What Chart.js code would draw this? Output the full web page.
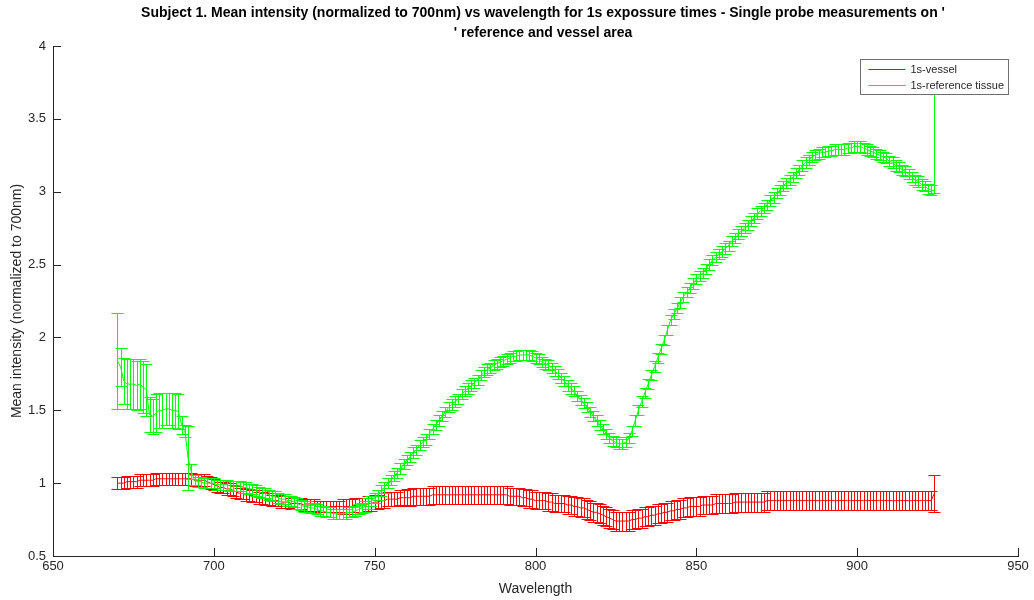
<!DOCTYPE html>
<html>
<head>
<meta charset="utf-8">
<title>Mean intensity vs wavelength</title>
<script src="https://cdn.jsdelivr.net/npm/chart.js@4.4.1/dist/chart.umd.min.js"></script>
<style>
    html, body { margin: 0; padding: 0; background: #fff; }
    #wrap { width: 1034px; height: 600px; }
</style>
</head>
<body>
<div id="wrap"><canvas id="spectrum"></canvas></div>
<script>
// ========================================
// Data
// ========================================

// sample wavelengths, nm (1 nm steps, 670 - 924)
const wavelengths = [];
for (let w = 670; w <= 924; w++) wavelengths.push(w);

// 1s-vessel: mean intensity normalised to 700 nm
const vesselMean = [
    1.00, 1.00, 1.00, 1.01, 1.01, 1.01, 1.01, 1.02, 1.02, 1.02,
    1.02, 1.02, 1.03, 1.03, 1.03, 1.03, 1.03, 1.03, 1.03, 1.03,
    1.03, 1.03, 1.03, 1.03, 1.02, 1.02, 1.02, 1.02, 1.01, 1.00,
    0.99, 0.98, 0.97, 0.97, 0.96, 0.96, 0.95, 0.94, 0.93, 0.93,
    0.92, 0.92, 0.91, 0.91, 0.90, 0.90, 0.89, 0.89, 0.88, 0.88,
    0.88, 0.87, 0.87, 0.87, 0.86, 0.86, 0.86, 0.86, 0.85, 0.85,
    0.85, 0.85, 0.84, 0.84, 0.84, 0.84, 0.84, 0.84, 0.84, 0.84,
    0.84, 0.84, 0.84, 0.84, 0.85, 0.85, 0.85, 0.85, 0.86, 0.86,
    0.87, 0.87, 0.88, 0.88, 0.89, 0.89, 0.89, 0.89, 0.90, 0.90,
    0.90, 0.90, 0.91, 0.91, 0.91, 0.91, 0.91, 0.91, 0.92, 0.92,
    0.92, 0.92, 0.92, 0.92, 0.92, 0.92, 0.92, 0.92, 0.92, 0.92,
    0.92, 0.92, 0.92, 0.92, 0.92, 0.92, 0.92, 0.92, 0.92, 0.92,
    0.92, 0.92, 0.91, 0.91, 0.91, 0.91, 0.90, 0.90, 0.89, 0.89,
    0.88, 0.88, 0.88, 0.88, 0.87, 0.87, 0.86, 0.86, 0.86, 0.86,
    0.85, 0.85, 0.84, 0.84, 0.83, 0.83, 0.82, 0.81, 0.80, 0.80,
    0.79, 0.78, 0.77, 0.76, 0.75, 0.74, 0.74, 0.74, 0.74, 0.74,
    0.75, 0.75, 0.76, 0.76, 0.77, 0.77, 0.78, 0.78, 0.79, 0.79,
    0.80, 0.80, 0.81, 0.81, 0.82, 0.82, 0.83, 0.83, 0.84, 0.84,
    0.84, 0.84, 0.85, 0.85, 0.85, 0.85, 0.86, 0.86, 0.86, 0.86,
    0.86, 0.86, 0.87, 0.87, 0.87, 0.87, 0.87, 0.87, 0.87, 0.87,
    0.87, 0.87, 0.88, 0.88, 0.88, 0.88, 0.88, 0.88, 0.88, 0.88,
    0.88, 0.88, 0.88, 0.88, 0.88, 0.88, 0.88, 0.88, 0.88, 0.88,
    0.88, 0.88, 0.88, 0.88, 0.88, 0.88, 0.88, 0.88, 0.88, 0.88,
    0.88, 0.88, 0.88, 0.88, 0.88, 0.88, 0.88, 0.88, 0.88, 0.88,
    0.88, 0.88, 0.88, 0.88, 0.88, 0.88, 0.88, 0.88, 0.88, 0.88,
    0.88, 0.88, 0.88, 0.88, 0.93
];
const vesselErr = [
    0.04, 0.04, 0.04, 0.04, 0.04, 0.04, 0.04, 0.04, 0.04, 0.04,
    0.04, 0.04, 0.04, 0.04, 0.04, 0.04, 0.04, 0.04, 0.04, 0.04,
    0.04, 0.04, 0.04, 0.04, 0.04, 0.04, 0.04, 0.04, 0.04, 0.04,
    0.04, 0.04, 0.04, 0.04, 0.04, 0.04, 0.04, 0.04, 0.04, 0.04,
    0.04, 0.04, 0.04, 0.04, 0.04, 0.04, 0.04, 0.04, 0.04, 0.04,
    0.04, 0.04, 0.04, 0.04, 0.04, 0.04, 0.04, 0.04, 0.04, 0.04,
    0.04, 0.04, 0.04, 0.04, 0.04, 0.04, 0.04, 0.04, 0.04, 0.04,
    0.05, 0.05, 0.05, 0.05, 0.05, 0.05, 0.05, 0.05, 0.05, 0.05,
    0.05, 0.05, 0.05, 0.05, 0.05, 0.05, 0.05, 0.05, 0.05, 0.05,
    0.06, 0.06, 0.06, 0.06, 0.06, 0.06, 0.06, 0.06, 0.06, 0.06,
    0.06, 0.06, 0.06, 0.06, 0.06, 0.06, 0.06, 0.06, 0.06, 0.06,
    0.06, 0.06, 0.06, 0.06, 0.06, 0.06, 0.06, 0.06, 0.06, 0.06,
    0.06, 0.06, 0.06, 0.06, 0.06, 0.06, 0.06, 0.06, 0.06, 0.06,
    0.06, 0.06, 0.06, 0.06, 0.06, 0.06, 0.06, 0.06, 0.06, 0.06,
    0.065, 0.065, 0.065, 0.065, 0.065, 0.065, 0.065, 0.065, 0.065, 0.065,
    0.065, 0.065, 0.065, 0.065, 0.065, 0.065, 0.065, 0.065, 0.065, 0.065,
    0.065, 0.065, 0.065, 0.065, 0.065, 0.065, 0.065, 0.065, 0.065, 0.065,
    0.065, 0.065, 0.065, 0.065, 0.065, 0.065, 0.065, 0.065, 0.065, 0.065,
    0.065, 0.065, 0.065, 0.065, 0.065, 0.065, 0.065, 0.065, 0.065, 0.065,
    0.065, 0.065, 0.065, 0.065, 0.065, 0.065, 0.065, 0.065, 0.065, 0.065,
    0.065, 0.065, 0.065, 0.065, 0.065, 0.065, 0.065, 0.065, 0.065, 0.065,
    0.065, 0.065, 0.065, 0.065, 0.065, 0.065, 0.065, 0.065, 0.065, 0.065,
    0.065, 0.065, 0.065, 0.065, 0.065, 0.065, 0.065, 0.065, 0.065, 0.065,
    0.065, 0.065, 0.065, 0.065, 0.065, 0.065, 0.065, 0.065, 0.065, 0.065,
    0.065, 0.065, 0.065, 0.065, 0.065, 0.065, 0.065, 0.065, 0.065, 0.065,
    0.065, 0.065, 0.065, 0.065, 0.125
];

// 1s-reference tissue
const refMean = [
    1.84, 1.80, 1.70, 1.68, 1.68, 1.68, 1.67, 1.68, 1.66, 1.64,
    1.47, 1.46, 1.48, 1.50, 1.50, 1.51, 1.51, 1.50, 1.50, 1.49,
    1.40, 1.36, 1.17, 1.08, 1.02, 1.01, 1.01, 1.00, 1.00, 1.00,
    1.00, 0.99, 0.99, 0.99, 0.99, 0.98, 0.98, 0.98, 0.98, 0.97,
    0.97, 0.96, 0.96, 0.95, 0.94, 0.93, 0.93, 0.92, 0.91, 0.91,
    0.90, 0.89, 0.89, 0.88, 0.88, 0.87, 0.86, 0.85, 0.84, 0.84,
    0.83, 0.83, 0.82, 0.81, 0.81, 0.80, 0.80, 0.79, 0.79, 0.79,
    0.79, 0.79, 0.80, 0.80, 0.81, 0.82, 0.83, 0.84, 0.86, 0.88,
    0.90, 0.92, 0.95, 0.97, 1.00, 1.02, 1.05, 1.07, 1.10, 1.13,
    1.16, 1.18, 1.21, 1.23, 1.26, 1.28, 1.30, 1.34, 1.37, 1.40,
    1.43, 1.46, 1.49, 1.52, 1.54, 1.56, 1.58, 1.61, 1.63, 1.65,
    1.67, 1.69, 1.71, 1.74, 1.76, 1.78, 1.79, 1.81, 1.82, 1.83,
    1.84, 1.85, 1.86, 1.87, 1.87, 1.88, 1.88, 1.88, 1.88, 1.87,
    1.86, 1.85, 1.83, 1.82, 1.81, 1.79, 1.77, 1.75, 1.72, 1.70,
    1.67, 1.65, 1.63, 1.60, 1.57, 1.55, 1.52, 1.49, 1.46, 1.43,
    1.40, 1.37, 1.34, 1.31, 1.29, 1.28, 1.27, 1.27, 1.28, 1.31,
    1.36, 1.43, 1.50, 1.56, 1.62, 1.68, 1.74, 1.80, 1.86, 1.92,
    1.98, 2.05, 2.12, 2.16, 2.20, 2.24, 2.28, 2.31, 2.34, 2.37,
    2.40, 2.42, 2.44, 2.47, 2.50, 2.53, 2.55, 2.57, 2.59, 2.61,
    2.63, 2.66, 2.68, 2.71, 2.73, 2.75, 2.77, 2.80, 2.82, 2.85,
    2.87, 2.89, 2.91, 2.94, 2.96, 2.99, 3.01, 3.04, 3.06, 3.08,
    3.10, 3.13, 3.15, 3.18, 3.20, 3.22, 3.24, 3.25, 3.26, 3.27,
    3.27, 3.28, 3.28, 3.29, 3.29, 3.29, 3.29, 3.30, 3.30, 3.31,
    3.31, 3.31, 3.30, 3.29, 3.28, 3.27, 3.26, 3.25, 3.24, 3.23,
    3.21, 3.20, 3.18, 3.17, 3.15, 3.14, 3.12, 3.10, 3.08, 3.07,
    3.05, 3.04, 3.02, 3.01, 3.01
];
// lower whisker (and upper, except the last sample)
const refErr = [
    0.33, 0.13, 0.16, 0.17, 0.17, 0.17, 0.17, 0.17, 0.18, 0.18,
    0.12, 0.12, 0.13, 0.12, 0.12, 0.11, 0.11, 0.12, 0.12, 0.12,
    0.06, 0.04, 0.22, 0.05, 0.035, 0.035, 0.035, 0.035, 0.035, 0.035,
    0.035, 0.035, 0.035, 0.035, 0.035, 0.035, 0.035, 0.035, 0.035, 0.035,
    0.035, 0.035, 0.035, 0.035, 0.035, 0.035, 0.035, 0.035, 0.035, 0.035,
    0.035, 0.035, 0.035, 0.035, 0.035, 0.035, 0.035, 0.035, 0.035, 0.035,
    0.035, 0.035, 0.035, 0.035, 0.035, 0.035, 0.035, 0.035, 0.035, 0.035,
    0.035, 0.035, 0.035, 0.035, 0.035, 0.035, 0.035, 0.035, 0.035, 0.035,
    0.035, 0.035, 0.035, 0.035, 0.035, 0.035, 0.035, 0.035, 0.035, 0.035,
    0.035, 0.035, 0.035, 0.035, 0.035, 0.035, 0.035, 0.035, 0.035, 0.035,
    0.035, 0.035, 0.035, 0.035, 0.035, 0.035, 0.035, 0.035, 0.035, 0.035,
    0.035, 0.035, 0.035, 0.035, 0.035, 0.035, 0.035, 0.035, 0.035, 0.035,
    0.035, 0.035, 0.035, 0.035, 0.035, 0.035, 0.035, 0.035, 0.035, 0.035,
    0.035, 0.035, 0.035, 0.035, 0.035, 0.035, 0.035, 0.035, 0.035, 0.035,
    0.035, 0.035, 0.035, 0.035, 0.035, 0.035, 0.035, 0.035, 0.035, 0.035,
    0.035, 0.035, 0.035, 0.035, 0.035, 0.035, 0.035, 0.035, 0.035, 0.035,
    0.035, 0.035, 0.035, 0.035, 0.035, 0.035, 0.035, 0.035, 0.035, 0.035,
    0.035, 0.035, 0.035, 0.035, 0.035, 0.035, 0.035, 0.035, 0.035, 0.035,
    0.035, 0.035, 0.035, 0.035, 0.035, 0.035, 0.035, 0.035, 0.035, 0.035,
    0.035, 0.035, 0.035, 0.035, 0.035, 0.035, 0.035, 0.035, 0.035, 0.035,
    0.035, 0.035, 0.035, 0.035, 0.035, 0.035, 0.035, 0.035, 0.035, 0.035,
    0.035, 0.035, 0.035, 0.035, 0.035, 0.035, 0.035, 0.035, 0.035, 0.035,
    0.035, 0.035, 0.035, 0.035, 0.035, 0.035, 0.035, 0.035, 0.035, 0.035,
    0.035, 0.035, 0.035, 0.035, 0.035, 0.035, 0.035, 0.035, 0.035, 0.035,
    0.035, 0.035, 0.035, 0.035, 0.035, 0.035, 0.035, 0.035, 0.035, 0.035,
    0.035, 0.035, 0.035, 0.035, 0.02
];
// the last reference sample has a long upper whisker
const refLastUpperErr = 0.75;
const refErrHigh = refErr.slice(0, -1).concat([refLastUpperErr]);

const seriesLabels = ['1s-vessel', '1s-reference tissue'];
const titleLines = [
    "Subject 1. Mean intensity (normalized to 700nm) vs wavelength for 1s expossure times - Single probe measurements on '",
    "' reference and vessel area"
];

// ========================================
// Plugins
// ========================================

const AXIS_COLOR = '#262626';
const VESSEL_COLOR = '#ff0000';
const REF_COLOR = '#00ff00';
const FONT = '"Liberation Sans", Arial, Helvetica, sans-serif';

// MATLAB-style error bars: vertical whisker + caps
const errorBarPlugin = {
    id: 'errorBars',
    afterDatasetDraw(chart, args) {
        const ds = chart.data.datasets[args.index];
        if (!ds.errLow) return;
        const { ctx, chartArea, scales: { x, y } } = chart;
        const cap = 6;
        ctx.save();
        ctx.beginPath();
        ctx.rect(chartArea.left, chartArea.top, chartArea.right - chartArea.left, chartArea.bottom - chartArea.top);
        ctx.clip();
        ctx.strokeStyle = ds.errColor;
        ctx.lineWidth = 1;
        ctx.beginPath();
        ds.data.forEach((p, i) => {
            const px = Math.round(x.getPixelForValue(p.x)) + 0.5;
            const top = Math.round(y.getPixelForValue(p.y + ds.errHigh[i])) + 0.5;
            const bot = Math.round(y.getPixelForValue(p.y - ds.errLow[i])) + 0.5;
            ctx.moveTo(px, top);
            ctx.lineTo(px, bot);
            ctx.moveTo(px - cap, top);
            ctx.lineTo(px + cap, top);
            ctx.moveTo(px - cap, bot);
            ctx.lineTo(px + cap, bot);
        });
        ctx.stroke();
        ctx.restore();
    }
};

// inward tick marks like MATLAB axes
const innerTicksPlugin = {
    id: 'innerTicks',
    afterDraw(chart) {
        const { ctx, chartArea, scales: { x, y } } = chart;
        const len = 8;
        ctx.save();
        ctx.strokeStyle = AXIS_COLOR;
        ctx.lineWidth = 1;
        ctx.beginPath();
        x.ticks.forEach(t => {
            const px = Math.round(x.getPixelForValue(t.value)) + 0.5;
            ctx.moveTo(px, chartArea.bottom);
            ctx.lineTo(px, chartArea.bottom - len);
        });
        y.ticks.forEach(t => {
            const py = Math.round(y.getPixelForValue(t.value)) + 0.5;
            ctx.moveTo(chartArea.left, py);
            ctx.lineTo(chartArea.left + len, py);
        });
        ctx.stroke();
        ctx.restore();
    }
};

// two-line title, centred a little right of the canvas centre as in the figure
const axesTitlePlugin = {
    id: 'axesTitle',
    afterDraw(chart) {
        const { ctx } = chart;
        ctx.save();
        ctx.fillStyle = '#000';
        ctx.font = 'bold 14px ' + FONT;
        ctx.textAlign = 'center';
        ctx.textBaseline = 'middle';
        titleLines.forEach((line, i) => ctx.fillText(line, 543, 13 + i * 20));
        ctx.restore();
    }
};

// boxed legend in the upper right corner of the axes
const boxLegendPlugin = {
    id: 'boxLegend',
    afterDraw(chart) {
        const { ctx } = chart;
        const left = 860.5, top = 59.5, w = 148, h = 35;
        ctx.save();
        ctx.fillStyle = '#fff';
        ctx.fillRect(left, top, w, h);
        ctx.strokeStyle = '#6e6e6e';
        ctx.lineWidth = 1;
        ctx.strokeRect(left, top, w, h);
        ctx.font = '11px ' + FONT;
        ctx.textBaseline = 'middle';
        ctx.textAlign = 'left';
        chart.data.datasets.forEach((ds, i) => {
            const ly = Math.round(top + 9 + i * 16) + 0.5;
            ctx.strokeStyle = ds.errColor;
            ctx.beginPath();
            ctx.moveTo(left + 8, ly);
            ctx.lineTo(left + 45, ly);
            ctx.stroke();
            ctx.fillStyle = AXIS_COLOR;
            ctx.fillText(ds.label, left + 50, ly);
        });
        ctx.restore();
    }
};

// ========================================
// Chart
// ========================================

function toPoints(means) {
    return means.map((v, i) => ({ x: wavelengths[i], y: v }));
}

document.addEventListener('DOMContentLoaded', function() {
    const ctx = document.getElementById('spectrum');

    new Chart(ctx, {
        type: 'scatter',
        data: {
            datasets: [{
                label: seriesLabels[0],
                data: toPoints(vesselMean),
                errLow: vesselErr,
                errHigh: vesselErr,
                errColor: VESSEL_COLOR,
                borderColor: VESSEL_COLOR,
                backgroundColor: VESSEL_COLOR,
                order: 2
            }, {
                label: seriesLabels[1],
                data: toPoints(refMean),
                errLow: refErr,
                errHigh: refErrHigh,
                errColor: REF_COLOR,
                borderColor: REF_COLOR,
                backgroundColor: REF_COLOR,
                order: 1
            }]
        },
        options: {
            responsive: true,
            maintainAspectRatio: false,
            animation: false,
            showLine: true,
            elements: {
                point: { radius: 0, hoverRadius: 0 },
                line: { borderWidth: 1, tension: 0 }
            },
            layout: { padding: { top: 46, right: 16, bottom: 0, left: 0 } },
            plugins: {
                legend: { display: false },
                tooltip: { enabled: false },
                title: { display: false }
            },
            scales: {
                x: {
                    type: 'linear',
                    min: 650,
                    max: 950,
                    grid: { display: false, drawTicks: false },
                    border: { display: true, color: AXIS_COLOR },
                    ticks: {
                        stepSize: 50,
                        padding: 3,
                        color: AXIS_COLOR,
                        font: { family: FONT, size: 13 },
                        maxRotation: 0
                    },
                    title: {
                        display: true,
                        text: 'Wavelength',
                        color: AXIS_COLOR,
                        font: { family: FONT, size: 14 },
                        padding: { top: 0, bottom: 2 }
                    },
                    afterFit(scale) { scale.height = 44; }
                },
                y: {
                    type: 'linear',
                    min: 0.5,
                    max: 4,
                    grid: { display: false, drawTicks: false },
                    border: { display: true, color: AXIS_COLOR },
                    ticks: {
                        stepSize: 0.5,
                        padding: 7,
                        color: AXIS_COLOR,
                        font: { family: FONT, size: 13 },
                        callback: v => String(+v.toFixed(2))
                    },
                    title: {
                        display: true,
                        text: 'Mean intensity (normalized to 700nm)',
                        color: AXIS_COLOR,
                        font: { family: FONT, size: 14 },
                        padding: { top: 9, bottom: 0 }
                    },
                    afterFit(scale) { scale.width = 53; }
                }
            }
        },
        plugins: [errorBarPlugin, innerTicksPlugin, axesTitlePlugin, boxLegendPlugin]
    });
});
</script>
</body>
</html>
